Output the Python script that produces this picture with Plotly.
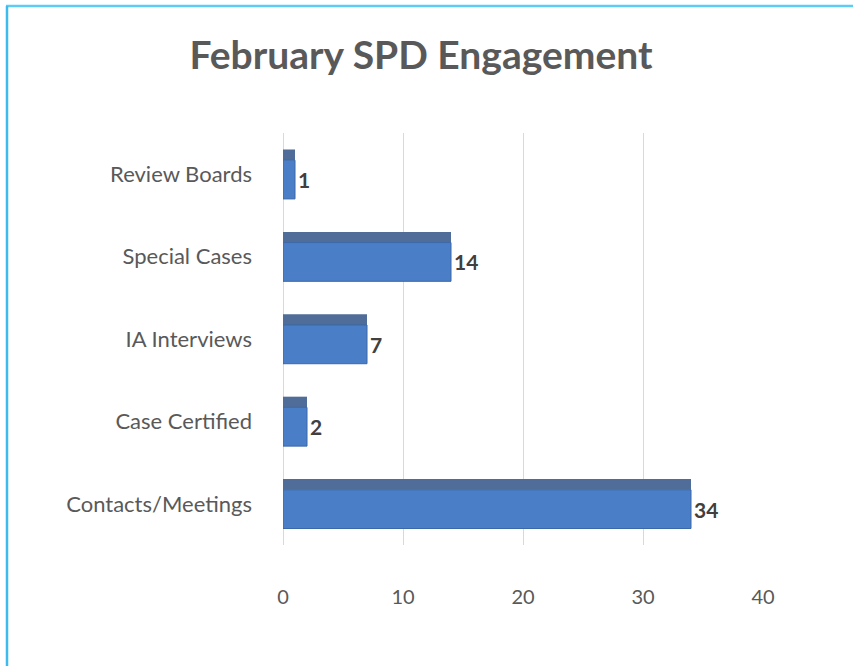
import plotly.graph_objects as go

categories = ["Contacts/Meetings", "Case Certified", "IA Interviews", "Special Cases", "Review Boards"]
values = [34, 2, 7, 14, 1]
x_ticks = [0, 10, 20, 30, 40]
title_text = "February SPD Engagement"

W, H = 853, 666
L, R, T, B = 283, 90, 133, 121
PW, PH = W - L - R, H - T - B

def px_to_paper_x(px):
    return (px - L) / PW

def px_to_paper_y(py):
    return (H - B - py) / PH

fig = go.Figure()
# darker top face of each bar (3D look)
fig.add_trace(go.Bar(
    y=categories,
    x=values,
    orientation="h",
    marker=dict(color="#4f6d98", line=dict(color="#4f6d98", width=0)),
    width=0.13,
    offset=0.17,
    hoverinfo="skip",
))
# front face with value labels
fig.add_trace(go.Bar(
    y=categories,
    x=values,
    orientation="h",
    marker=dict(color="#4a7ec6", line=dict(color="#3a67a8", width=1)),
    text=[str(v) for v in values],
    textposition="outside",
    textfont=dict(family="Lato", size=21, color="#404040", weight="bold"),
    cliponaxis=False,
    width=0.47,
    offset=-0.30,
    hoverinfo="x+y",
))

fig.update_layout(
    width=W, height=H,
    margin=dict(l=L, r=R, t=T, b=B),
    paper_bgcolor="white",
    plot_bgcolor="white",
    showlegend=False,
    barmode="overlay",
    title=dict(
        text=title_text,
        x=421 / W, xref="container", xanchor="center",
        y=1 - 55 / H, yref="container", yanchor="middle",
        font=dict(family="Lato", size=39, color="#595959", weight="bold"),
    ),
    xaxis=dict(
        range=[0, 40],
        tickvals=x_ticks,
        ticktext=[str(t) for t in x_ticks],
        showgrid=True, gridcolor="#d9d9d9", gridwidth=1,
        zeroline=True, zerolinecolor="#d9d9d9", zerolinewidth=1,
        showline=False,
        ticks="",
        ticklabelstandoff=38,
        tickfont=dict(family="Lato", size=20, color="#595959"),
        fixedrange=True,
    ),
    yaxis=dict(
        categoryorder="array", categoryarray=categories,
        showgrid=False, zeroline=False, showline=False,
        ticks="",
        ticklabelstandoff=30,
        tickfont=dict(family="Lato", size=22, color="#595959"),
        fixedrange=True,
    ),
    shapes=[
        dict(type="line", xref="paper", yref="paper",
             x0=px_to_paper_x(6), x1=px_to_paper_x(W + 5),
             y0=px_to_paper_y(6), y1=px_to_paper_y(6),
             line=dict(color="#5ccbf5", width=2.5)),
        dict(type="line", xref="paper", yref="paper",
             x0=px_to_paper_x(7), x1=px_to_paper_x(7),
             y0=px_to_paper_y(6), y1=px_to_paper_y(H + 5),
             line=dict(color="#3dbbef", width=2.5)),
    ],
)

fig.write_html(
    "out.html",
    config={"displayModeBar": False},
    post_script="document.body.style.margin='0';document.body.style.overflow='hidden';",
)
